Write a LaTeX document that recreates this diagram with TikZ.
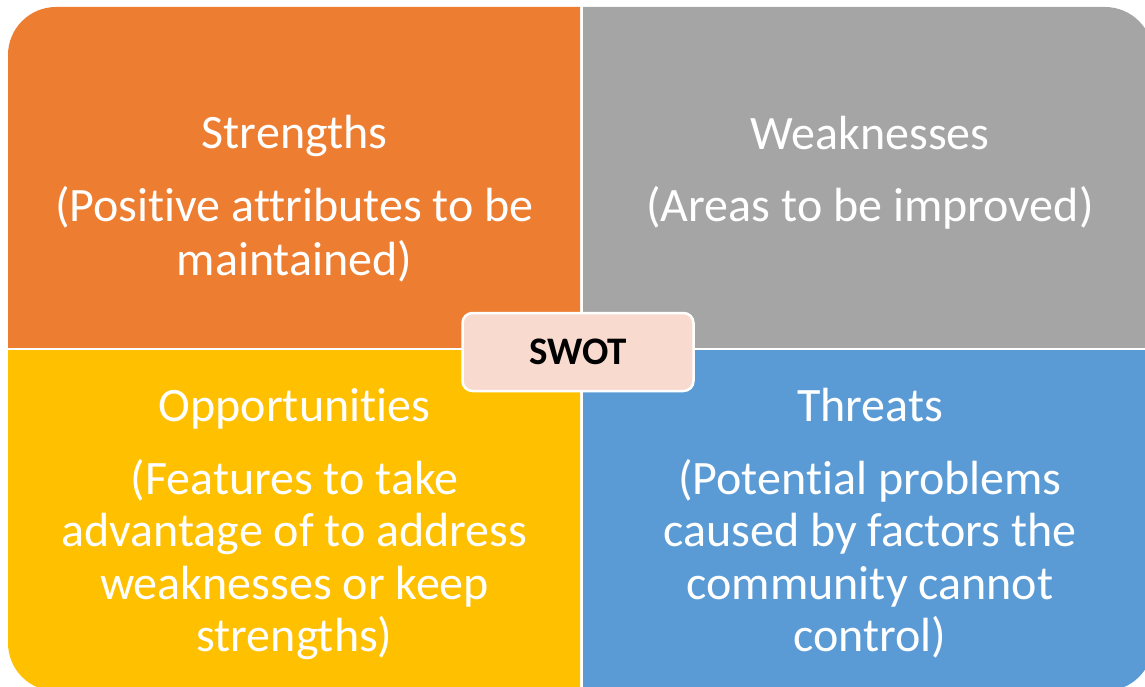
\documentclass[tikz,border=0pt]{standalone}
\usepackage{fontspec}
\setmainfont{Carlito}[Ligatures={NoCommon,NoRare,NoContextual}]
\definecolor{swOrange}{HTML}{ED7D31}
\definecolor{swGray}{HTML}{A5A5A5}
\definecolor{swYellow}{HTML}{FFC000}
\definecolor{swBlue}{HTML}{5B9BD5}
\definecolor{swPink}{HTML}{F8DACF}
\begin{document}
\begin{tikzpicture}[x=1pt,y=-1pt,
  lbl/.style={text=white, font=\fontsize{48}{53}\selectfont, anchor=base, inner sep=0pt},
  centerbox/.style={draw=white, line width=2.5pt, fill=swPink, rounded corners=10pt,
    minimum width=231pt, minimum height=78pt, inner sep=0pt,
    font=\bfseries\fontsize{39}{44}\selectfont, text=black}
  ]
\useasboundingbox (0,0) rectangle (1145,687);
\clip (0,0) rectangle (1145,687);
\foreach \xa/\ya/\xb/\yb/\c in {8/7/580/347.7/swOrange, 583/7/1153/347.7/swGray, 8/350.7/580/691/swYellow, 583/350.7/1153/691/swBlue} {
  \begin{scope}
    \clip (\xa,\ya) rectangle (\xb,\yb);
    \fill[\c, rounded corners=48pt] (8,7) rectangle (1153,691);
  \end{scope}
}
% Strengths
\node[lbl] (s0) at (294.5,149) {Strengths};
\node[lbl] (s1) at (294.5,222) {(Positive attributes to be};
\node[lbl] (s2) at (294.5,275) {maintained)};
% Weaknesses
\node[lbl] (w0) at (870,150) {Weaknesses};
\node[lbl] (w1) at (870,222) {(Areas to be improved)};
% Opportunities
\node[lbl] (o0) at (294.5,421.5) {Opportunities};
\node[lbl] (o1) at (294.5,494) {(Features to take};
\node[lbl] (o2) at (294.5,546.5) {advantage of to address};
\node[lbl] (o3) at (294.5,599) {weaknesses or keep};
\node[lbl] (o4) at (294.5,651.5) {strengths)};
% Threats
\node[lbl] (t0) at (870,421.5) {Threats};
\node[lbl] (t1) at (870,494) {(Potential problems};
\node[lbl] (t2) at (870,546.5) {caused by factors the};
\node[lbl] (t3) at (870,599) {community cannot};
\node[lbl] (t4) at (870,651.5) {control)};
% Center
\node[centerbox] (swot) at (578,352) {SWOT};
\end{tikzpicture}
\end{document}
